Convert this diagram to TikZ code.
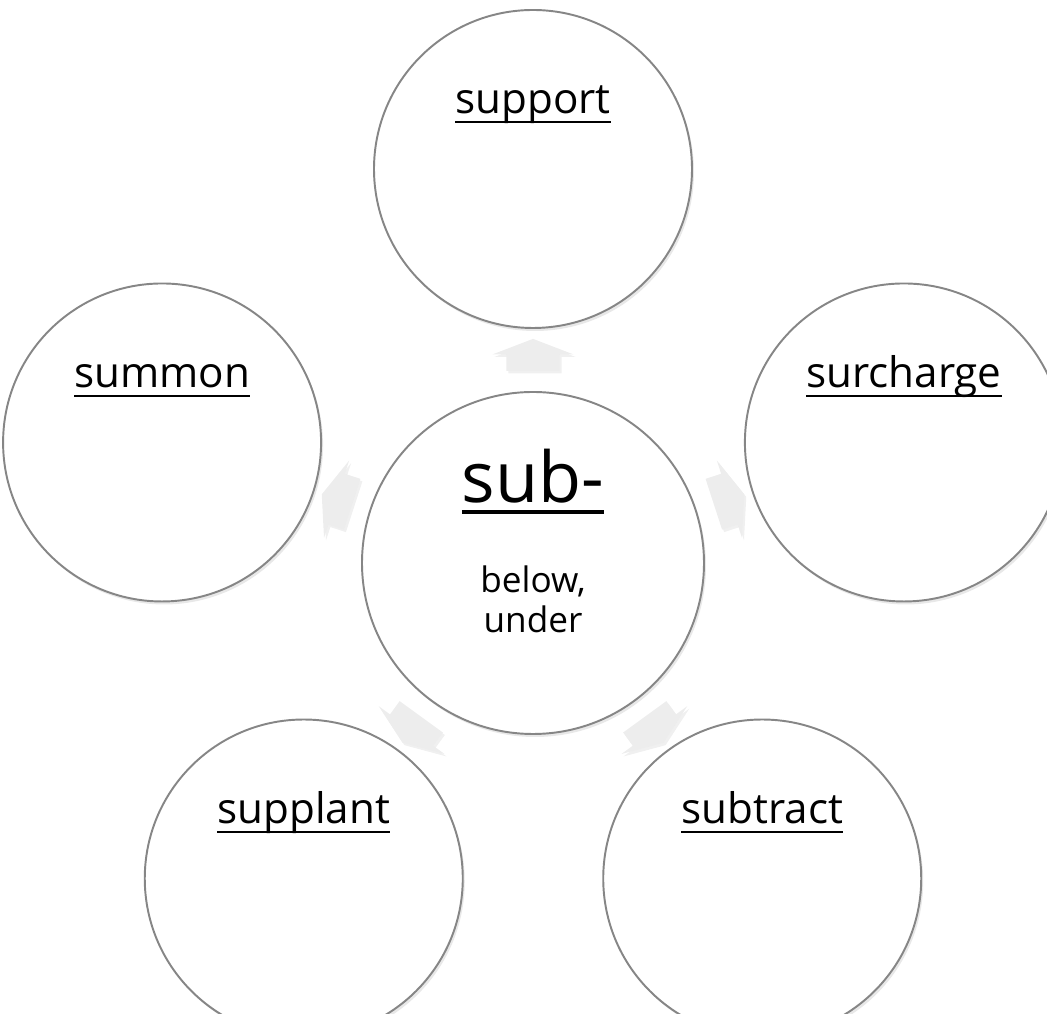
\documentclass[tikz,border=0pt]{standalone}
\usepackage{fontspec}
\setmainfont{Open Sans}
\usetikzlibrary{positioning,calc,shapes.arrows,shadows}

% underline that runs just under the baseline, through descenders
\newcommand{\uword}[2][0.6pt]{\vtop{\hbox{\raisebox{0pt}[\height][0pt]{#2}}\kern2pt\hrule height #1}}

\begin{document}
\begin{tikzpicture}[
    bubble/.style={circle, draw=gray!95, line width=0.55pt, fill=white, minimum size=3.18cm, inner sep=0pt,
        drop shadow={opacity=0.18, shadow xshift=0.02cm, shadow yshift=-0.03cm}},
    hub/.style={bubble, minimum size=3.42cm},
    word/.style={font=\fontsize{12}{14}\selectfont, inner sep=0pt, anchor=base},
    flow/.style={single arrow, fill=gray!14, draw=none, minimum height=0.32cm,
        inner xsep=0pt, inner ysep=0.26cm, single arrow head extend=0.14cm, single arrow tip angle=138,
        drop shadow={opacity=0.12, shadow xshift=0.02cm, shadow yshift=-0.025cm}}
]
    \useasboundingbox (0,0) rectangle (10.47,-10.14);

    % Circles {hub, support, surcharge, subtract, supplant, summon}
    \path (5.33,-5.63) coordinate (c);
    \node [hub]     (sub)  at (c)                        {};
    \node [bubble]  (sp)   at ($(c)+(90:3.94)$)          {};
    \node [bubble]  (sc)   at ($(c)+(18:3.9)$)           {};
    \node [bubble]  (st)   at ($(c)+(-54:3.9)$)          {};
    \node [bubble]  (sl)   at ($(c)+(-126:3.9)$)         {};
    \node [bubble]  (sm)   at ($(c)+(162:3.9)$)          {};

    % Words
    \node [word, font=\fontsize{20}{24}\selectfont] (wsub) at ([yshift=0.6cm]sub.center) {\uword[1.2pt]{sub-}};
    \node [word, font=\fontsize{10}{11.5}\selectfont, align=center, anchor=north] (wmean) at ([yshift=-0.02cm]sub.center) {below,\\under};
    \node [word]    (wsp)  at ([yshift=0.55cm]sp.center)  {\uword{support}};
    \node [word]    (wsc)  at ([yshift=0.55cm]sc.center)  {\uword{surcharge}};
    \node [word]    (wst)  at ([yshift=0.55cm]st.center)  {\uword{subtract}};
    \node [word]    (wsl)  at ([yshift=0.55cm]sl.center)  {\uword{supplant}};
    \node [word]    (wsm)  at ([yshift=0.55cm]sm.center)  {\uword{summon}};

    % Arrows
    \node [flow, rotate=90]   (a1) at ($(sub.90)!0.5!(sp.270)$)   {};
    \node [flow, rotate=18]   (a2) at ($(sub.18)!0.5!(sc.198)$)   {};
    \node [flow, rotate=-54]  (a3) at ($(sub.-54)!0.5!(st.126)$)  {};
    \node [flow, rotate=-126] (a4) at ($(sub.-126)!0.5!(sl.54)$)  {};
    \node [flow, rotate=162]  (a5) at ($(sub.162)!0.5!(sm.-18)$)  {};

\end{tikzpicture}
\end{document}
